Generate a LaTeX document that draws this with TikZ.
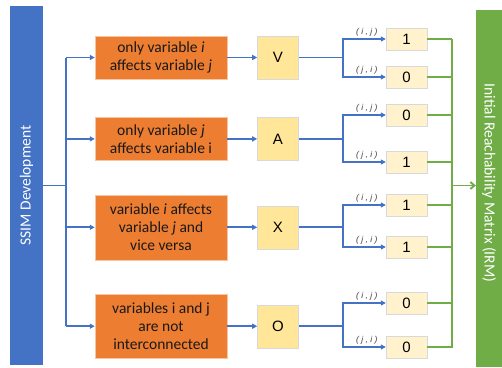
\documentclass[tikz,border=0pt]{standalone}
\usepackage{fontspec}
\setmainfont{Carlito}
\newfontfamily\arialfont{Liberation Sans}
\usetikzlibrary{positioning,arrows.meta}
\definecolor{ssimblue}{HTML}{4472C4}
\definecolor{relorange}{HTML}{ED7D31}
\definecolor{relgold}{HTML}{FFE699}
\definecolor{cellcream}{HTML}{FFF2CC}
\definecolor{irmgreen}{HTML}{70AD47}

\begin{document}
\begin{tikzpicture}[x=1pt,y=-1pt,>={Triangle[length=5pt,width=5pt]},
				blueline/.style={draw=ssimblue, line width=1.9pt},
				greenline/.style={draw=irmgreen, line width=1.9pt},
				ssimbar/.style={rectangle, fill=ssimblue, inner sep=0pt, minimum width=33pt, minimum height=359pt, text=white, font=\fontsize{15.5}{18}\selectfont},
				irmbar/.style={rectangle, fill=irmgreen, inner sep=0pt, minimum width=26pt, minimum height=357pt},
				relbox/.style={rectangle, draw=relorange!45!white, fill=relorange, minimum width=132pt, minimum height=43pt, align=center, inner sep=2pt, text=black!90, font=\fontsize{15.5}{18}\selectfont},
				symbox/.style={rectangle, draw=black!15, fill=relgold, minimum width=41pt, minimum height=43pt, font=\arialfont\fontsize{15}{18}\selectfont},
				cellbox/.style={rectangle, draw=black!15, fill=cellcream, minimum width=41pt, minimum height=22pt, inner sep=0pt, font=\arialfont\fontsize{15}{18}\selectfont},
				pair/.style={above, inner sep=1.5pt, text=black!75, font=\arialfont\itshape\fontsize{8.5}{9}\selectfont}
			]
			\useasboundingbox (0,0) rectangle (502,367);
			
			\node[ssimbar] (ssim) at (26.5,185.5) {\rotatebox{90}{SSIM Development}};
			\node[irmbar] (irm) at (489,188.5) [label={[text=white, yshift=5.5pt, font=\fontsize{15.5}{18}\selectfont]center:\rotatebox{-90}{Initial Reachability Matrix (IRM)}}] {};
			
			\node[relbox] (f_1) at (161,57.5) {only variable \textit{i}\\affects variable \textit{j}};
			\node[relbox] (f_2) [below=38pt of f_1] {only variable \textit{j}\\affects variable i};
			\node[relbox, minimum height=65pt] (f_3) [below=34pt of f_2] {variable \textit{i} affects\\variable \textit{j} and\\vice versa};
			\node[relbox, minimum height=64pt] (f_4) [below=34pt of f_3] {variables i and j\\are not\\interconnected};
			
			\node[symbox] (s_1) [right=30pt of f_1] {V};
			\node[symbox] (s_2) [right=30pt of f_2] {A};
			\node[symbox] (s_3) [right=30pt of f_3] {X};
			\node[symbox] (s_4) [right=30pt of f_4] {O};
			
			\node[cellbox] (v_1) at (406.5,39) {1};
			\node[cellbox] (v_2) at (406.5,77) {0};
			\node[cellbox] (v_3) at (406.5,115) {0};
			\node[cellbox] (v_4) at (406.5,162) {1};
			\node[cellbox] (v_5) at (406.5,205) {1};
			\node[cellbox] (v_6) at (406.5,247) {1};
			\node[cellbox] (v_7) at (406.5,303) {0};
			\node[cellbox] (v_8) at (406.5,347) {0};
			
			\draw[blueline] (ssim.east) -- ++(23,0) coordinate (t_0);
			\draw[blueline] (t_0 |- f_1.west) -- (t_0 |- f_4.west);
			\draw[blueline,->] (t_0 |- f_1.west) -- (f_1.west);
			\draw[blueline,->] (t_0 |- f_2.west) -- (f_2.west);
			\draw[blueline,->] (t_0 |- f_3.west) -- (f_3.west);
			\draw[blueline,->] (t_0 |- f_4.west) -- (f_4.west);
			
			\draw[blueline,->] (f_1.east) -- (s_1.west);
			\draw[blueline,->] (f_2.east) -- (s_2.west);
			\draw[blueline,->] (f_3.east) -- (s_3.west);
			\draw[blueline,->] (f_4.east) -- (s_4.west);
			
			\draw[blueline] (s_1.east) -- ++(44,0) coordinate (k_1);
			\draw[blueline] (s_2.east) -- ++(44,0) coordinate (k_2);
			\draw[blueline] (s_3.east) -- ++(44,0) coordinate (k_3);
			\draw[blueline] (s_4.east) -- ++(44,0) coordinate (k_4);
			
			\draw[blueline,->] (k_1) |- (v_1.west) node[pair, pos=0.78] {(\;i\;,\;j\;)};
			\draw[blueline,->] (k_1) |- (v_2.west) node[pair, pos=0.78] {(\;j\;,\;i\;)};
			\draw[blueline,->] (k_2) |- (v_3.west) node[pair, pos=0.78] {(\;i\;,\;j\;)};
			\draw[blueline,->] (k_2) |- (v_4.west) node[pair, pos=0.78] {(\;j\;,\;i\;)};
			\draw[blueline,->] (k_3) |- (v_5.west) node[pair, pos=0.78] {(\;i\;,\;j\;)};
			\draw[blueline,->] (k_3) |- (v_6.west) node[pair, pos=0.78] {(\;j\;,\;i\;)};
			\draw[blueline,->] (k_4) |- (v_7.west) node[pair, pos=0.78] {(\;i\;,\;j\;)};
			\draw[blueline,->] (k_4) |- (v_8.west) node[pair, pos=0.78] {(\;j\;,\;i\;)};
			
			\draw[greenline] (v_1.east) -- ++(25,0) coordinate (g_0);
			\draw[greenline] (g_0) -- (g_0 |- v_8.east) -- (v_8.east);
			\draw[greenline] (v_2.east) -- (g_0 |- v_2.east);
			\draw[greenline] (v_3.east) -- (g_0 |- v_3.east);
			\draw[greenline] (v_4.east) -- (g_0 |- v_4.east);
			\draw[greenline] (v_5.east) -- (g_0 |- v_5.east);
			\draw[greenline] (v_6.east) -- (g_0 |- v_6.east);
			\draw[greenline] (v_7.east) -- (g_0 |- v_7.east);
			\draw[greenline,-{Straight Barb[length=4pt,width=7pt]}] (g_0 |- ssim.east) -- (irm.west |- ssim.east);
		\end{tikzpicture}
\end{document}
